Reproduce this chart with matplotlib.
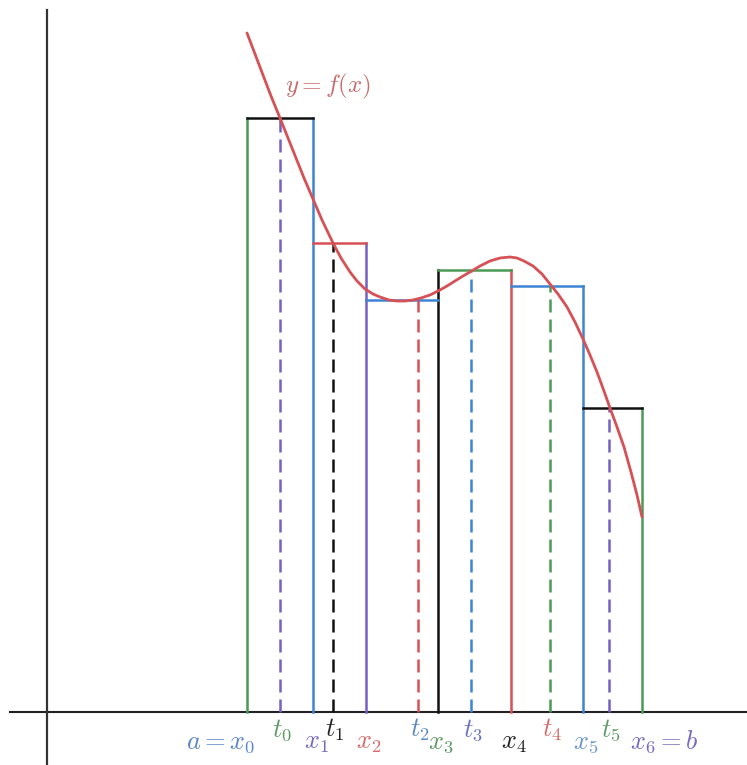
import matplotlib.pyplot as plt

# Riemann sum sketch: partition x_i, sample points t_i, rectangle heights f(t_i)
plt.rcParams['mathtext.fontset'] = 'cm'

GREEN = '#4c9a55'
BLUE = '#3f84d4'
PURPLE = '#7560c4'
RED = '#d65155'
BLACK = '#111111'

# partition points x_0..x_6 and sample points t_0..t_5
xs = [2.00, 2.66, 3.19, 3.91, 4.64, 5.36, 5.95]
ts = [2.33, 2.86, 3.71, 4.24, 5.03, 5.62]
heights = [5.94, 4.69, 4.12, 4.42, 4.26, 3.04]   # f(t_i)

edge_colors = [GREEN, BLUE, PURPLE, BLACK, RED, BLUE, GREEN]
top_colors = [BLACK, RED, BLUE, GREEN, BLUE, BLACK]
dash_colors = [PURPLE, BLACK, RED, BLUE, GREEN, PURPLE]

# y = f(x)
curve_x = [2.00, 2.08, 2.16, 2.24, 2.33, 2.41, 2.49, 2.57, 2.66, 2.75,
           2.86, 2.94, 3.03, 3.10, 3.18, 3.26, 3.33, 3.42, 3.50, 3.58,
           3.66, 3.74, 3.83, 3.93, 4.00, 4.08, 4.16, 4.23, 4.33, 4.43,
           4.53, 4.63, 4.70, 4.77, 4.86, 4.95, 5.03, 5.11, 5.20, 5.28,
           5.36, 5.43, 5.50, 5.57, 5.63, 5.70, 5.77, 5.84, 5.90, 5.95]
curve_y = [6.79, 6.58, 6.37, 6.16, 5.94, 5.74, 5.54, 5.34, 5.13, 4.92,
           4.69, 4.54, 4.40, 4.31, 4.23, 4.18, 4.15, 4.12, 4.11, 4.11,
           4.12, 4.14, 4.17, 4.22, 4.26, 4.31, 4.36, 4.40, 4.46, 4.51,
           4.54, 4.55, 4.54, 4.51, 4.46, 4.38, 4.28, 4.18, 4.05, 3.90,
           3.73, 3.57, 3.40, 3.21, 3.04, 2.85, 2.65, 2.40, 2.17, 1.95]

x_labels = [r'$a=x_0$', r'$x_1$', r'$x_2$', r'$x_3$', r'$x_4$', r'$x_5$', r'$x_6=b$']
x_label_colors = ['#5a86c8', '#7a68c0', '#d86a6a', '#5c9a64', '#222222', '#6a95d0', '#7a68c0']
t_labels = [r'$t_0$', r'$t_1$', r'$t_2$', r'$t_3$', r'$t_4$', r'$t_5$']
t_label_colors = ['#5c9a64', '#222222', '#5a86c8', '#6a72c4', '#d86a6a', '#5c9a64']

fig = plt.figure(figsize=(7.47, 7.65), dpi=100)
ax = fig.add_axes([0, 0, 1, 1])
ax.set_xlim(-0.47, 7.00)
ax.set_ylim(-0.53, 7.12)
ax.axis('off')

# coordinate axes
ax.plot([-0.37, 7.0], [0, 0], color='#222222', lw=1.5)
ax.plot([0, 0], [-0.53, 7.02], color='#333333', lw=1.6)

lw = 1.8
# vertical sides: each x_i goes up to the taller neighbouring rectangle
for i, x in enumerate(xs):
    left = heights[i - 1] if i > 0 else 0
    right = heights[i] if i < len(heights) else 0
    ax.plot([x, x], [0, max(left, right)], color=edge_colors[i], lw=lw)

# tops
for i, h in enumerate(heights):
    ax.plot([xs[i], xs[i + 1]], [h, h], color=top_colors[i], lw=lw)

# dashed lines at sample points
for i, t in enumerate(ts):
    ax.plot([t, t], [0, heights[i]], color=dash_colors[i], lw=lw,
            linestyle=(0, (5.2, 2.8)))

ax.plot(curve_x, curve_y, color=RED, lw=2.0, solid_capstyle='round',
        solid_joinstyle='round')
ax.text(2.38, 6.20, r'$y=f(x)$', color='#c86a6a', fontsize=18, va='baseline')

fs = 19
for i, (lab, c) in enumerate(zip(x_labels, x_label_colors)):
    if i == 0:
        ax.text(xs[i] + 0.08, -0.37, lab, color=c, fontsize=fs, ha='right', va='baseline')
    elif i == len(xs) - 1:
        ax.text(xs[i] - 0.12, -0.37, lab, color=c, fontsize=fs, ha='left', va='baseline')
    else:
        ax.text(xs[i] + 0.03, -0.37, lab, color=c, fontsize=fs, ha='center', va='baseline')

for i, (lab, c) in enumerate(zip(t_labels, t_label_colors)):
    ax.text(ts[i] + 0.02, -0.25, lab, color=c, fontsize=fs, ha='center', va='baseline')

fig.savefig('out.png', dpi=100)
